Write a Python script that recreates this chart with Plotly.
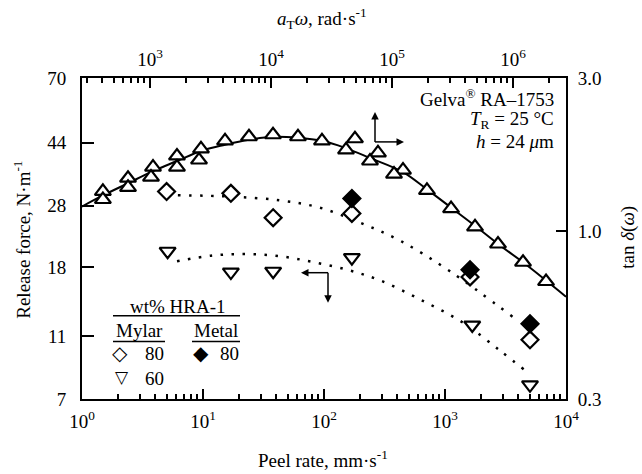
import plotly.graph_objects as go

# ---------------- data ----------------
# Release force vs peel rate (bottom / left axes)
peel_mylar80 = [5.0, 17, 38, 170, 1610, 5040]
force_mylar80 = [31.0, 30.6, 25.7, 26.5, 16.8, 10.7]
peel_metal80 = [170, 1610, 5040]
force_metal80 = [29.5, 17.7, 12.0]
peel_mylar60 = [5.1, 17, 38, 170, 1680, 5040]
force_mylar60 = [20.2, 17.4, 17.5, 19.3, 11.9, 7.75]

# dotted guide curves
fit80_peel = [6.2, 16.7, 43.3, 92.7, 199, 425, 1100, 3650]
fit80_force = [30.2, 29.9, 29.1, 27.6, 24.8, 21.8, 17.5, 12.6]
fit60_peel = [6.1, 12.1, 23.1, 43.3, 81.1, 155, 290, 621, 1410, 2850, 4580]
fit60_force = [18.8, 19.6, 19.8, 19.5, 18.7, 17.7, 16.4, 14.3, 12.1, 9.9, 8.6]

# tan delta vs a_T*omega (top / right axes)
omega_pts = [408, 408, 658, 658, 1059, 1019, 1671, 1671, 2638, 2541, 4169, 6577,
             10390, 16710, 26380, 49430, 41690, 76560, 65780, 123300, 103900,
             194500, 307600, 485300, 751600, 1210000, 1875000]
tand_pts = [1.33, 1.255, 1.462, 1.369, 1.583, 1.473, 1.715, 1.583, 1.804, 1.666, 1.912, 1.968,
            1.997, 1.968, 1.912, 1.940, 1.791, 1.753, 1.654, 1.549, 1.505,
            1.340, 1.176, 1.031, 0.912, 0.800, 0.697]
omega_curve = [274, 408, 658, 1059, 1671, 2638, 4169, 6577, 10390, 16710, 26380, 40930,
               65780, 123300, 194500, 307600, 485300, 751600, 1210000, 1875000, 2742000]
tand_curve = [1.193, 1.292, 1.410, 1.538, 1.654, 1.778, 1.858, 1.926, 1.968, 1.955, 1.912, 1.818,
              1.690, 1.527, 1.349, 1.184, 1.039, 0.912, 0.800, 0.702, 0.625]

# axis ticks
force_ticks = [7, 11, 18, 28, 44, 70]
tand_ticks = [0.3, 1.0, 3.0]
tand_ticktext = ["0.3", "1.0", "3.0"]
peel_ticks = [1, 10, 100, 1000, 10000]
peel_ticktext = ["10<sup>0</sup>", "10<sup>1</sup>", "10<sup>2</sup>", "10<sup>3</sup>", "10<sup>4</sup>"]
omega_ticks = [1e3, 1e4, 1e5, 1e6]
omega_ticktext = ["10<sup>3</sup>", "10<sup>4</sup>", "10<sup>5</sup>", "10<sup>6</sup>"]

minor_bottom = [m * 10 ** k for k in range(0, 4) for m in range(2, 10)]
minor_top = [m * 10 ** k for k in range(2, 7) for m in range(2, 10)]

FONT = "Liberation Serif"
FS = 19

fig = go.Figure()

# tan delta (solid curve + open up-triangles)
fig.add_trace(go.Scatter(x=omega_curve, y=tand_curve, xaxis="x2", yaxis="y2", mode="lines",
                         line=dict(color="black", width=2, shape="spline"), hoverinfo="skip"))
fig.add_trace(go.Scatter(x=omega_pts, y=tand_pts, xaxis="x2", yaxis="y2", mode="markers",
                         marker=dict(symbol="triangle-up", size=14, color="white",
                                     line=dict(color="black", width=2.2))))

# dotted guides
dot = "2.5px,8.5px"
fig.add_trace(go.Scatter(x=fit80_peel, y=fit80_force, mode="lines",
                         line=dict(color="black", width=2.5, dash=dot, shape="spline")))
fig.add_trace(go.Scatter(x=fit60_peel, y=fit60_force, mode="lines",
                         line=dict(color="black", width=2.5, dash=dot, shape="spline")))

# release force markers
fig.add_trace(go.Scatter(x=peel_mylar80, y=force_mylar80, mode="markers",
                         marker=dict(symbol="diamond", size=13, color="white",
                                     line=dict(color="black", width=2.2))))
fig.add_trace(go.Scatter(x=peel_metal80, y=force_metal80, mode="markers",
                         marker=dict(symbol="diamond", size=13, color="black",
                                     line=dict(color="black", width=2.2))))
fig.add_trace(go.Scatter(x=peel_mylar60, y=force_mylar60, mode="markers", cliponaxis=False,
                         marker=dict(symbol="triangle-down", size=14, color="white",
                                     line=dict(color="black", width=2.2))))

axis_common = dict(showline=True, linecolor="black", linewidth=2, mirror=False,
                   showgrid=False, zeroline=False, tickcolor="black", tickwidth=1.5,
                   ticks="inside", tickfont=dict(family=FONT, size=FS, color="black"))

fig.update_layout(
    width=642, height=474,
    margin=dict(l=82, r=76, t=78, b=75),
    paper_bgcolor="white", plot_bgcolor="white",
    showlegend=False,
    font=dict(family=FONT, size=FS, color="black"),
    xaxis=dict(type="log", range=[0, 4], tickvals=peel_ticks, ticktext=peel_ticktext,
               ticklen=10, ticklabelstandoff=4,
               minor=dict(tickvals=minor_bottom, ticks="inside", ticklen=5,
                          tickcolor="black", tickwidth=1.5),
               **axis_common),
    xaxis2=dict(type="log", range=[2.438, 6.438], overlaying="x", side="top",
                tickvals=omega_ticks, ticktext=omega_ticktext, ticklen=10, ticklabelstandoff=2,
                minor=dict(tickvals=minor_top, ticks="inside", ticklen=5,
                           tickcolor="black", tickwidth=1.5),
                **axis_common),
    yaxis=dict(type="log", range=[0.845098, 1.845098], tickvals=force_ticks,
               ticktext=[str(v) for v in force_ticks], ticklen=12, ticklabelstandoff=10,
               **axis_common),
    yaxis2=dict(type="log", range=[-0.522879, 0.477121], overlaying="y", side="right",
                tickvals=tand_ticks, ticktext=tand_ticktext, ticklen=10, ticklabelstandoff=6,
                **axis_common),
)

def px(xp, yp):
    return (xp - 82) / 484, (399.5 - yp) / 321.5

ann = []
def text(s, xpix, ypix, size=FS, xanchor="center", angle=0, family=FONT):
    x, y = px(xpix, ypix)
    ann.append(dict(text=s, x=x, y=y, xref="paper", yref="paper", showarrow=False,
                    xanchor=xanchor, yanchor="middle", textangle=angle,
                    font=dict(family=family, size=size, color="black")))

# axis titles
text("Release force, N·m<sup>-1</sup>", 22, 240, angle=-90)
text("tan <i>δ</i>(<i>ω</i>)", 628, 238, angle=-90)
text("Peel rate, mm·s<sup>-1</sup>", 323, 460)
text("<i>a</i><sub>T</sub><i>ω</i>, rad·s<sup>-1</sup>", 322, 18)

# sample information
text("Gelva<sup>®</sup> RA–1753", 556, 98, xanchor="right")
text("<i>T</i><sub>R</sub> = 25 °C", 556, 120, xanchor="right")
text("<i>h</i> = 24 <i>μ</i>m", 556, 142, xanchor="right")

# legend
text("wt% HRA-1", 178, 307)
text("Mylar", 139, 331)
text("Metal", 216, 331)
text("80", 154, 354)
text("80", 229, 354)
text("60", 154, 379)
text("◇", 120, 353, size=20, family="DejaVu Sans")
text("◆", 201, 353, size=20, family="DejaVu Sans")
text("▽", 122, 377, size=17, family="DejaVu Sans")

shapes = []
def seg(x0, y0, x1, y1, w=1.5):
    a0, b0 = px(x0, y0)
    a1, b1 = px(x1, y1)
    shapes.append(dict(type="line", xref="paper", yref="paper", x0=a0, x1=a1, y0=b0, y1=b1,
                       line=dict(color="black", width=w)))

# legend underlines
seg(113, 316, 240, 316)
seg(113, 342, 165, 342)
seg(192, 342, 240, 342)

# L-shaped arrows indicating which axes are used
seg(375, 142, 375, 116)
seg(375, 142, 400, 142)
seg(328, 273, 305, 273)
seg(328, 273, 328, 299)

def head(hx, hy, ax, ay):
    x, y = px(hx, hy)
    ann.append(dict(text="", x=x, y=y, xref="paper", yref="paper", showarrow=True,
                    ax=ax, ay=ay, arrowhead=2, arrowsize=1, arrowwidth=1.5,
                    arrowcolor="black", standoff=0, startstandoff=0,
                    font=dict(size=1)))

head(375, 112, 0, 8)
head(404, 142, -8, 0)
head(301, 273, 8, 0)
head(328, 303, 0, -8)

fig.update_layout(annotations=ann, shapes=shapes)

fig.write_html("out.html")
